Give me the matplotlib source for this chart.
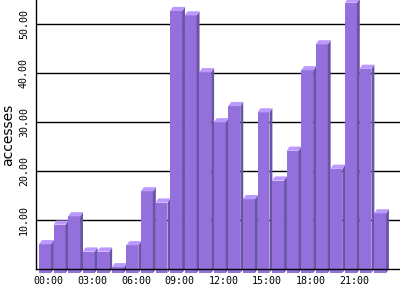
import matplotlib
matplotlib.use("Agg")
import matplotlib.pyplot as plt
from matplotlib.patches import Polygon

hours = list(range(24))
hour_labels = ["00:00", "03:00", "06:00", "09:00", "12:00", "15:00", "18:00", "21:00"]
accesses = [5.9, 9.9, 11.6, 4.4, 4.4, 1.2, 5.7, 16.7, 14.4, 53.5, 52.6, 41.0,
            30.8, 34.1, 15.1, 32.8, 18.9, 25.0, 41.4, 46.7, 21.3, 55.2, 41.7, 12.2]

FRONT = "#9370db"
SIDE = "#6a54a8"
TOP = "#bb99ff"

width = 0.82   # front face width, in bar slots
dx = 0.2       # depth offset to the right
dy = 0.85      # depth offset upwards (data units)

fig = plt.figure(figsize=(4, 3), dpi=100)
ax = fig.add_axes([0.09, 0.1033, 0.91, 0.8967])

for i, v in zip(hours, accesses):
    x0, x1 = i, i + width
    lo, hi = -dy, v - dy
    front = Polygon([(x0, lo), (x1, lo), (x1, hi), (x0, hi)],
                    closed=True, facecolor=FRONT, edgecolor="none", zorder=2, clip_on=False)
    side = Polygon([(x1, lo), (x1 + dx, lo + dy), (x1 + dx, hi + dy), (x1, hi)],
                   closed=True, facecolor=SIDE, edgecolor="none", zorder=2, clip_on=False)
    top = Polygon([(x0, hi), (x1, hi), (x1 + dx, hi + dy), (x0 + dx, hi + dy)],
                  closed=True, facecolor=TOP, edgecolor="none", zorder=2, clip_on=False)
    ax.add_patch(front)
    ax.add_patch(side)
    ax.add_patch(top)

ax.set_xlim(-0.206, 24.78)
ax.set_ylim(0, 54.9)

ax.set_yticks([10, 20, 30, 40, 50])
ax.set_yticklabels([f"{t:.2f}" for t in [10, 20, 30, 40, 50]],
                   rotation=90, va="center", family="DejaVu Sans Mono", fontsize=7.2)
ax.set_xticks([h + 0.65 for h in hours[::3]])
ax.set_xticklabels(hour_labels, family="DejaVu Sans Mono", fontsize=7.2)
ax.tick_params(length=0, pad=5)
ax.yaxis.grid(True, color="black", linewidth=1)
ax.set_axisbelow(True)

ax.set_ylabel("accesses", fontsize=10, labelpad=3)

for s in ["top", "right"]:
    ax.spines[s].set_visible(False)
for s in ["left", "bottom"]:
    ax.spines[s].set_linewidth(1)
    ax.spines[s].set_zorder(3)

fig.savefig("out.png", dpi=100)
